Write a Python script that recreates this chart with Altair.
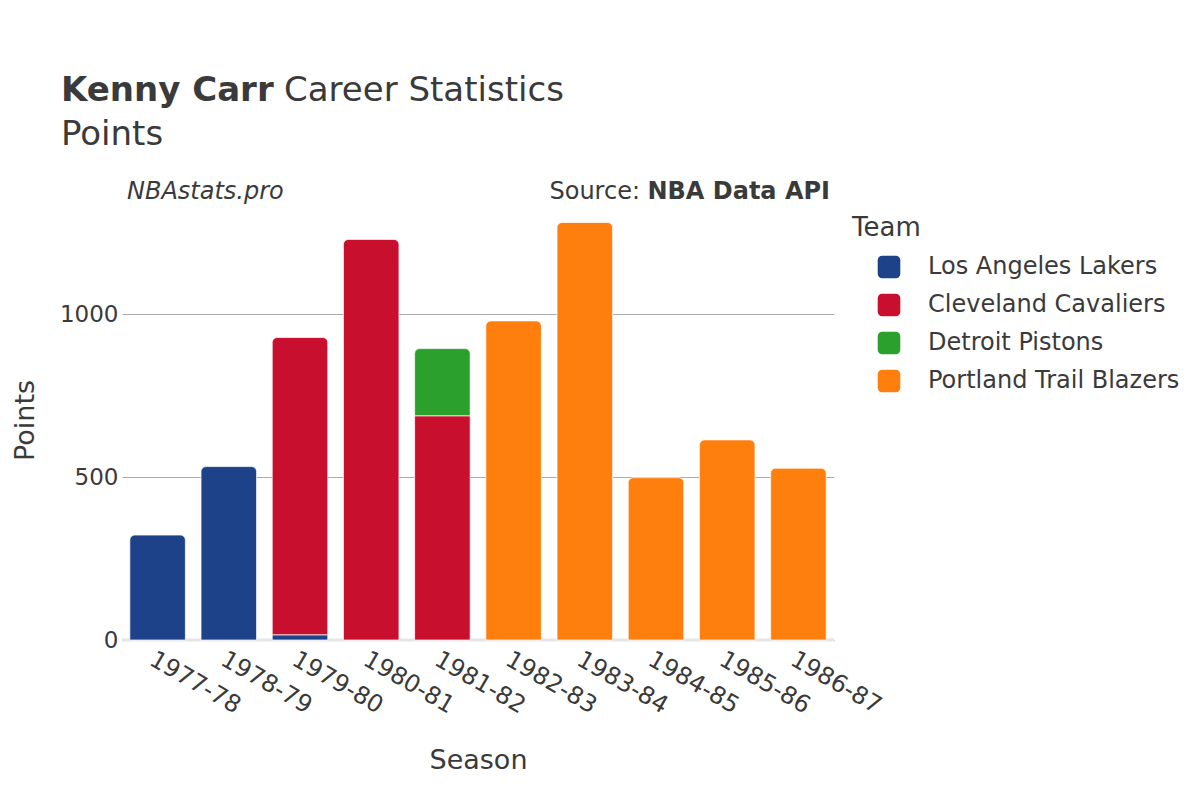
import altair as alt
import pandas as pd

seasons = ["1977-78", "1978-79", "1979-80", "1980-81", "1981-82",
           "1982-83", "1983-84", "1984-85", "1985-86", "1986-87"]
teams = ["Los Angeles Lakers", "Cleveland Cavaliers", "Detroit Pistons", "Portland Trail Blazers"]
team_colors = ["#1d428a", "#c8102e", "#2ca02c", "#ff7f0e"]

# points per season for each team (0 = did not play for that team)
lakers_pts   = [322, 532, 16, 0, 0, 0, 0, 0, 0, 0]
cavs_pts     = [0, 0, 912, 1229, 688, 0, 0, 0, 0, 0]
pistons_pts  = [0, 0, 0, 0, 206, 0, 0, 0, 0, 0]
portland_pts = [0, 0, 0, 0, 0, 979, 1281, 498, 614, 527]

series = [lakers_pts, cavs_pts, pistons_pts, portland_pts]

rows = []
for i, s in enumerate(seasons):
    base = 0
    segs = []
    for t, vals in zip(teams, series):
        v = vals[i]
        if v > 0:
            segs.append({"Season": s, "Team": t, "Points": v, "start": base, "end": base + v})
            base += v
    for j, seg in enumerate(segs):
        seg["top"] = (j == len(segs) - 1)
        rows.append(seg)
df = pd.DataFrame(rows)

FONT = "DejaVu Sans"
TXT = "#3a3a3a"
W, H = 712, 440

xenc = alt.X("Season:N", sort=seasons, title="Season",
             scale=alt.Scale(paddingInner=0.22, paddingOuter=0.11),
             axis=alt.Axis(labelAngle=30, labelAlign="left", labelBaseline="top",
                           labelFontSize=24, labelPadding=7, ticks=False, domain=False,
                           titleFontSize=27, titleFontWeight="normal",
                           titleX=W / 2, titleY=120, titleBaseline="middle"))
yenc = alt.Y("start:Q", title="Points",
             scale=alt.Scale(domain=[0, 1350], nice=False),
             axis=alt.Axis(values=[0, 500, 1000], format="d", labelFontSize=23, labelPadding=4,
                           ticks=False, domain=False, grid=True, gridColor="#aaaaaa",
                           gridWidth=1, titleFontSize=27, titleFontWeight="normal",
                           titleX=-97, titleY=H / 2, titleAlign="center",
                           titleBaseline="middle", titleAngle=-90))
cenc = alt.Color("Team:N", sort=teams,
                 scale=alt.Scale(domain=teams, range=team_colors),
                 legend=alt.Legend(title="Team", orient="none", legendX=730, legendY=15,
                                   titleFontSize=26, titleFontWeight="normal", labelFontSize=24,
                                   labelLimit=0,
                                   symbolType="M-1,-0.6A0.4,0.4 0 0 1 -0.6,-1L0.6,-1A0.4,0.4 0 0 1 1,-0.6L1,0.6A0.4,0.4 0 0 1 0.6,1L-0.6,1A0.4,0.4 0 0 1 -1,0.6Z",
                                   symbolSize=511, symbolStrokeWidth=0, symbolOpacity=1,
                                   symbolOffset=25, labelOffset=27, rowPadding=14,
                                   titlePadding=14, padding=0))

base = alt.Chart(df)
zero = alt.Chart(pd.DataFrame({"v": [0]})).mark_rule(color="#e6e6e6", strokeWidth=3).encode(y=alt.Y("v:Q"))

lower = base.transform_filter("!datum.top").mark_bar(
    stroke="white", strokeWidth=1, strokeOpacity=0.7
).encode(x=xenc, y=yenc, y2="end:Q", color=cenc)
upper = base.transform_filter("datum.top").mark_bar(
    stroke="white", strokeWidth=1, strokeOpacity=0.7,
    cornerRadiusTopLeft=5, cornerRadiusTopRight=5
).encode(x=xenc, y=yenc, y2="end:Q", color=cenc)

one = pd.DataFrame({"k": [0]})
def txt(text, x, y, size, weight="normal", style="normal", align="left"):
    return alt.Chart(one).mark_text(text=text, font=FONT, fontSize=size, fontWeight=weight,
                                    fontStyle=style, align=align, baseline="alphabetic",
                                    color=TXT).encode(x=alt.value(x), y=alt.value(y))

t1 = txt("Kenny Carr", -61, -99, 34, weight="bold")
t2 = txt("Career Statistics", 162, -99, 34)
t3 = txt("Points", -61, -55, 34)
t4 = txt("NBAstats.pro", 5, -1, 24, style="italic")
t5 = txt("Source:", 518, -1, 24, align="right")
t6 = txt("NBA Data API", 708, -1, 24, weight="bold", align="right")

chart = alt.layer(zero, lower, upper, t1, t2, t3, t4, t5, t6).properties(
    width=W, height=H, autosize="none",
    padding={"left": 114, "top": 192, "right": 358, "bottom": 150}
).configure(font=FONT).configure_view(stroke=None).configure_axis(
    labelColor=TXT, titleColor=TXT, labelFont=FONT, titleFont=FONT
).configure_legend(labelColor=TXT, titleColor=TXT, labelFont=FONT, titleFont=FONT)

chart.save("out.html", embed_options={"renderer": "svg", "actions": False})
